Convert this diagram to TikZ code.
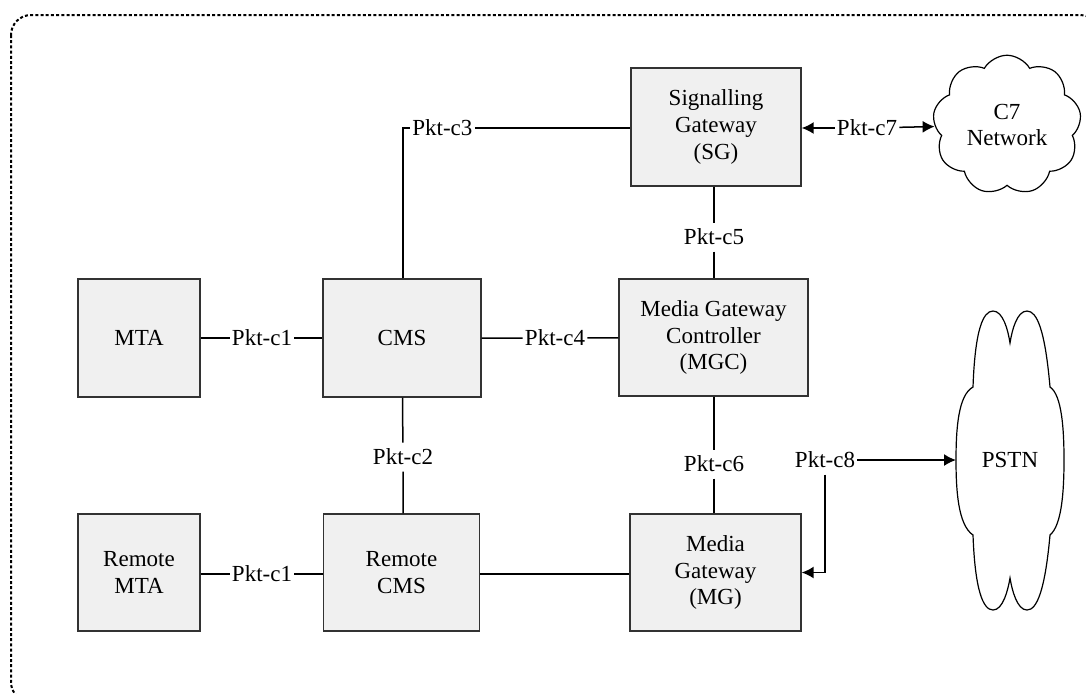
\documentclass[tikz,border=0pt]{standalone}
\usepackage{fontspec}
\setmainfont{Liberation Serif}
\usetikzlibrary{arrows.meta,shapes.symbols}
\definecolor{boxfill}{RGB}{240,240,240}
\definecolor{boxline}{RGB}{50,50,50}
\tikzset{
  box/.style={draw=boxline,fill=boxfill,line width=0.7pt,align=center,
    font=\fontsize{11.5}{13.3}\selectfont,inner sep=0pt},
  lbl/.style={font=\fontsize{11.5}{13.3}\selectfont,inner xsep=1pt,inner ysep=3pt},
  conn/.style={line width=0.75pt,draw=black},
  arr/.style={conn,-{Latex[length=6pt,width=6pt]}},
  frame/.style={line width=1pt,dash pattern=on 1.5pt off 1.1pt,rounded corners=10pt},
}
\begin{document}
\begin{tikzpicture}[x=0.5pt,y=-0.5pt]
\useasboundingbox (0,0) rectangle (1086,693);
\clip (0,0) rectangle (1086,693);
\draw[frame] (11,15) rectangle (1100,702);

% boxes
\node[box,minimum width=61pt,minimum height=59pt] (MTA) at (139,338) {MTA};
\node[box,minimum width=79pt,minimum height=59pt] (CMS) at (402,338) {CMS};
\node[box,minimum width=94.5pt,minimum height=58.5pt] (MGC) at (713.5,337.5) {Media Gateway\\Controller\\(MGC)};
\node[box,minimum width=85pt,minimum height=59pt] (SG) at (716,127) {Signalling\\Gateway\\(SG)};
\node[box,minimum width=61pt,minimum height=58.5pt] (RMTA) at (139,572.5) {Remote\\MTA};
\node[box,minimum width=78pt,minimum height=58.5pt] (RCMS) at (401.5,572.5) {Remote\\CMS};
\node[box,minimum width=85.5pt,minimum height=58.5pt] (MG) at (715.5,572.5) {Media\\Gateway\\(MG)};

% clouds
\node[cloud,draw=black,line width=0.6pt,cloud puffs=9,cloud puff arc=120,aspect=1.1,
  minimum width=70pt,minimum height=63pt,align=center,
  font=\fontsize{11.5}{13.3}\selectfont] (C7) at (1007,125) {C7\\Network};
\draw[line width=0.6pt]
  (973,387) .. controls (975,330) and (983,311) .. (993,311)
  .. controls (1003,311) and (1008,330) .. (1010,343)
  .. controls (1012,330) and (1017,311) .. (1027,311)
  .. controls (1037,311) and (1045,330) .. (1050,387)
  .. controls (1062,395) and (1064,430) .. (1064,460)
  .. controls (1064,490) and (1062,525) .. (1050,535)
  .. controls (1045,590) and (1037,610) .. (1027,610)
  .. controls (1017,610) and (1012,590) .. (1010,578)
  .. controls (1008,590) and (1003,610) .. (993,610)
  .. controls (983,610) and (975,590) .. (973,535)
  .. controls (958,525) and (956,490) .. (956,460)
  .. controls (956,430) and (958,395) .. cycle;
\node[font=\fontsize{11.5}{13.3}\selectfont] (PSTN) at (1010,460) {PSTN};
\coordinate (pstnW) at (956,460);

% labels
\node[lbl] (c1a) at (262,338) {Pkt-c1};
\node[lbl] (c1b) at (262,574) {Pkt-c1};
\node[lbl] (c4) at (555,338) {Pkt-c4};
\node[lbl] (c2) at (403,457) {Pkt-c2};
\node[lbl,anchor=west] (c3) at (410,128) {Pkt-c3};
\node[lbl] (c5) at (714,237) {Pkt-c5};
\node[lbl] (c6) at (714,464) {Pkt-c6};
\node[lbl] (c7) at (867,128) {Pkt-c7};
\node[lbl] (c8) at (825,460) {Pkt-c8};

% connectors
\draw[conn] (MTA) -- (c1a) -- (CMS);
\draw[conn] (CMS) -- (c4) -- (MGC);
\draw[conn] (RMTA.east |- c1b) -- (c1b) -- (RCMS.west |- c1b);
\draw[conn] (RCMS.east |- c1b) -- (MG.west |- c1b);
\draw[conn] (CMS) -- (c2) -- (RCMS.north -| c2);
\draw[conn] (CMS.north -| c2) |- (c3.west);
\draw[conn] (c3.east) -- (SG.west |- c3);
\draw[conn] (SG.south -| c5) -- (c5) -- (MGC.north -| c5);
\draw[conn] (MGC.south -| c6) -- (c6) -- (MG.north -| c6);
\draw[arr] (c7) -- (SG.east |- c7);
\draw[arr] (c7) -- (C7);
\draw[arr] (c8) -- (pstnW);
\draw[arr] (c8) |- (MG.east);
\end{tikzpicture}
\end{document}
